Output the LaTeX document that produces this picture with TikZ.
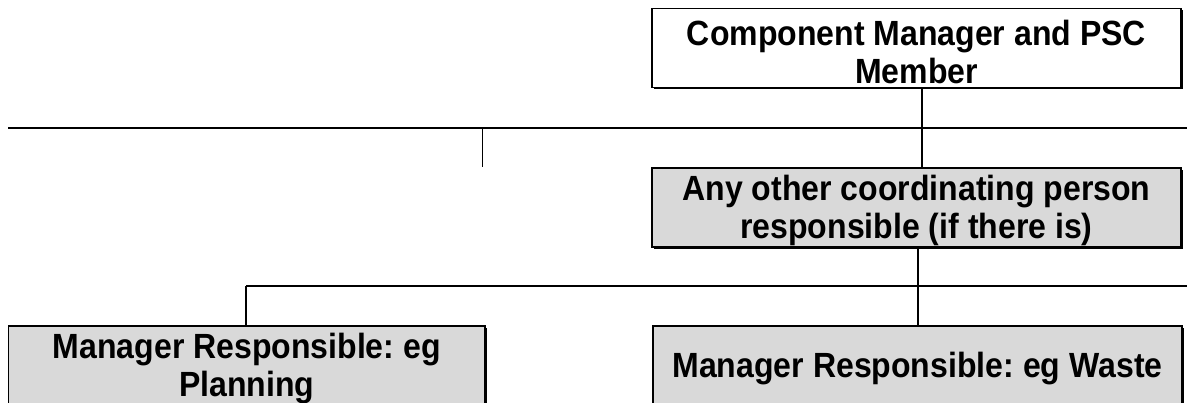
\documentclass[tikz,border=0pt]{standalone}
\usepackage{fontspec}
\setmainfont[FakeStretch=0.915]{Liberation Sans}
\frenchspacing
\usetikzlibrary{shadows}
\definecolor{boxgray}{HTML}{D9D9D9}
\begin{document}
\begin{tikzpicture}[x=1pt,y=-1pt,
  orgbox/.style={draw=black, line width=1.8pt, inner sep=0pt,
    minimum width=529pt, minimum height=79pt,
    drop shadow={shadow xshift=1.6pt, shadow yshift=-1.6pt, fill=black, opacity=1}},
  graybox/.style={orgbox, fill=boxgray},
  whitebox/.style={orgbox, fill=white},
  boxtext/.style={inner sep=0pt, align=center, font=\fontsize{35}{37.5}\selectfont\bfseries},
  conn/.style={draw=black, line width=2pt},
  thinconn/.style={draw=black, line width=0.9pt}]
\useasboundingbox (0,0) rectangle (1187,403);
\fill[white] (0,0) rectangle (1187,403);
\clip (0,0) rectangle (1187,403);

\node[whitebox] (top) at (916.5,48) {};
\node[graybox] (coord) at (916.5,207.5) {};
\node[graybox, minimum width=476.5pt, minimum height=83pt] (plan) at (246.75,367.5) {};
\node[graybox, minimum height=83pt] (waste) at (917.5,367.5) {};

\node[boxtext] (topT) at ([yshift=-4pt]top.center) {Component Manager and PSC\\Member};
\node[boxtext] (coordT) at ([yshift=-3pt]coord.center) {Any other coordinating person\\responsible (if there is)};
\node[boxtext] (planT) at ([yshift=-1pt]plan.center) {Manager Responsible: eg\\Planning};
\node[boxtext] (wasteT) at ([yshift=-1pt]waste.center) {Manager Responsible: eg Waste};

% upper bus
\coordinate (busL) at (8,128);
\coordinate (busR) at (1190,128);
\coordinate (busTop) at (922,128);
\coordinate (stubTop) at (482,128);
\coordinate (stubEnd) at (482,167);
\draw[conn] (busL) -- (busR);
\draw[conn] (top.south -| busTop) -- (coord.north -| busTop);
\draw[thinconn] (stubTop) -- (stubEnd);

% lower bus
\coordinate (lbusL) at (246,286);
\coordinate (lbusR) at (1190,286);
\draw[conn] (lbusL) -- (lbusR);
\draw[conn] (coord.south -| waste.north) -- (waste.north);
\draw[conn] (lbusL) -- (lbusL |- plan.north);
\end{tikzpicture}
\end{document}
